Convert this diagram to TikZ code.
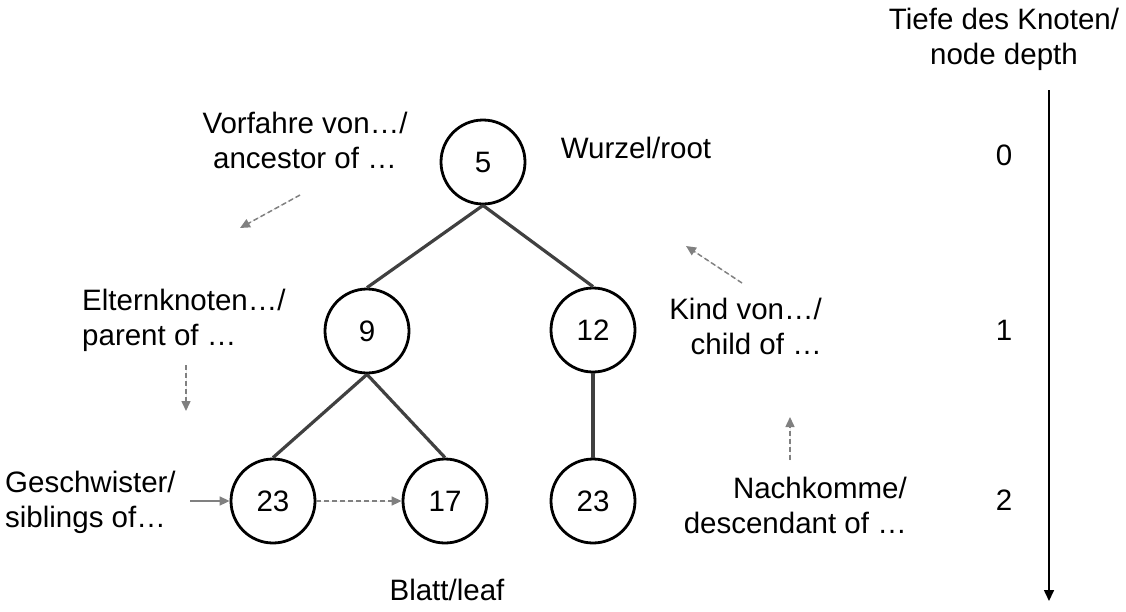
\documentclass[tikz,border=0pt]{standalone}
\usepackage{fontspec}
\setmainfont{Liberation Sans}
\usetikzlibrary{arrows.meta}
\begin{document}
\begin{tikzpicture}[x=1pt,y=-1pt,
  lbl/.style={inner sep=0pt,font=\fontsize{29.5}{35}\selectfont},
  knot/.style={circle,draw=black,line width=2.8pt,minimum size=84pt,inner sep=0pt,font=\fontsize{29.5}{35}\selectfont},
  edge/.style={draw=black!75,line width=3.2pt},
  hint/.style={draw=black!50,line width=1.5pt,dash pattern=on 5pt off 3pt,-{Triangle[length=10pt,width=9pt]},fill=black!50},
  solidhint/.style={draw=black!50,line width=1.5pt,-{Triangle[length=10pt,width=9pt]},fill=black!50}
]
\useasboundingbox (0,0) rectangle (1126,611);

% tree nodes
\node[knot] (n5) at (483,162) {5};
\node[knot] (n9) at (367,331) {9};
\node[knot] (n12) at (593,330) {12};
\node[knot] (n23a) at (273,501) {23};
\node[knot] (n17) at (445,501) {17};
\node[knot] (n23b) at (593,501) {23};

% edges
\draw[edge] (n5.south) -- (n9.north);
\draw[edge] (n5.south) -- (n12.north);
\draw[edge] (n9.south) -- (n23a.north);
\draw[edge] (n9.south) -- (n17.north);
\draw[edge] (n12.south) -- (n23b.north);

% labels
\node[lbl,align=center] (tiefe) at (1004,39) {Tiefe des Knoten/\\node depth};
\node[lbl] (d0) at (1004,155) {0};
\node[lbl] (d1) at (1004,330) {1};
\node[lbl] (d2) at (1004,500) {2};
\node[lbl,align=center] (vorf) at (305,140) {Vorfahre von…/\\ancestor of …};
\node[lbl] (wurz) at (636,148) {Wurzel/root};
\node[lbl,align=left,anchor=west] (elt) at (82,320) {Elternknoten…/\\parent of …};
\node[lbl,align=right,anchor=east] (kind) at (822,326) {Kind von…/\\child of …};
\node[lbl,align=right,anchor=east] (nach) at (907,505) {Nachkomme/\\descendant of …};
\node[lbl,align=left,anchor=west] (gesch) at (5,502) {Geschwister/\\siblings of…};
\node[lbl] (blatt) at (447,590) {Blatt/leaf};

% depth axis
\coordinate (axT) at (1049,90);
\coordinate (axB) at (1049,601);
\draw[black,line width=1.6pt,-{Triangle[length=11pt,width=10pt]}] (axT) -- (axB);

% hint arrows
\coordinate (a1s) at (300,195); \coordinate (a1e) at (240,228);
\draw[hint] (a1s) -- (a1e);
\coordinate (a2s) at (186,365); \coordinate (a2e) at (186,411);
\draw[hint] (a2s) -- (a2e);
\coordinate (a3s) at (742,283); \coordinate (a3e) at (686,246);
\draw[hint] (a3s) -- (a3e);
\coordinate (a4s) at (790,460); \coordinate (a4e) at (790,417);
\draw[hint] (a4s) -- (a4e);
\coordinate (a5s) at (190,501);
\draw[solidhint] (a5s) -- (n23a.west);
\draw[hint] (n23a.east) -- (n17.west);
\end{tikzpicture}
\end{document}
